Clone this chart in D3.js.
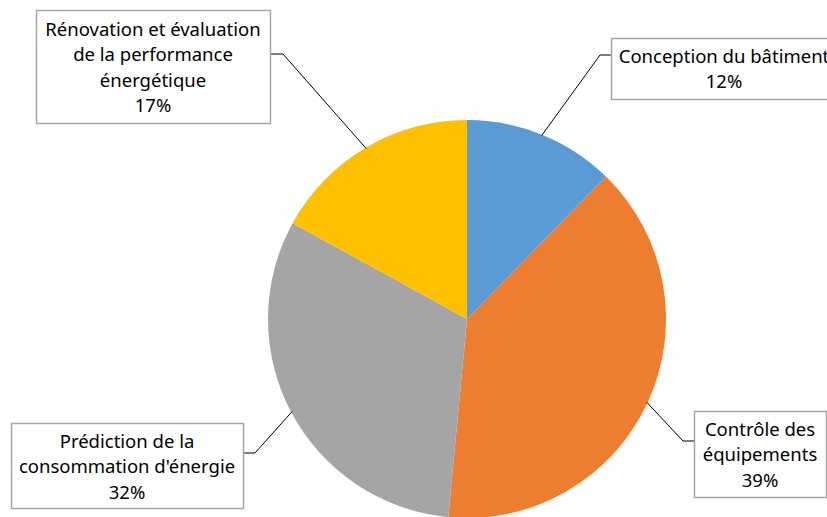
<!DOCTYPE html>
<html>
<head>
<meta charset="utf-8">
<script src="https://cdn.jsdelivr.net/npm/d3@7"></script>
<style>
  html, body { margin: 0; padding: 0; background: #fff; }
  svg { display: block; }
  text { font-family: "Noto Sans", Lato, sans-serif; fill: #000; font-variant-ligatures: none; }
</style>
</head>
<body>
<svg id="chart" width="827" height="517"></svg>
<script>
// ---- data ----
const categories = [
  "Conception du bâtiment",
  "Contrôle des équipements",
  "Prédiction de la consommation d'énergie",
  "Rénovation et évaluation de la performance énergétique"
];
const labelLines = [
  ["Conception du bâtiment"],
  ["Contrôle des", "équipements"],
  ["Prédiction de la", "consommation d'énergie"],
  ["Rénovation et évaluation", "de la performance", "énergétique"]
];
const values = [12.3, 39.2, 31.5, 17.0];
const colors = ["#5B9BD5", "#ED7D31", "#A5A5A5", "#FFC000"];

// ---- layout (label boxes) ----
const boxes = [
  { x: 611, y: 38, w: 226, h: 61, anchor: [611, 55], elbow: [600, 55], firstBase: 62.5 },
  { x: 694, y: 411, w: 132, h: 86, anchor: [694, 441], elbow: [683, 441], firstBase: 435.5 },
  { x: 11, y: 423, w: 232, h: 85, anchor: [243, 453], elbow: [255, 453], firstBase: 447.5 },
  { x: 36, y: 10, w: 234, h: 113, anchor: [270, 54], elbow: [283, 54], firstBase: 35.5 }
];
const lineH = 25.5;

const svg = d3.select("#chart");
const cx = 467, cy = 319, R = 199;

const total = d3.sum(values);
const pie = d3.pie().sort(null).value(d => d)(values);
const arc = d3.arc().innerRadius(0).outerRadius(R);

const g = svg.append("g").attr("transform", `translate(${cx},${cy})`);
g.selectAll("path.slice")
  .data(pie)
  .join("path")
  .attr("class", "slice")
  .attr("d", arc)
  .attr("fill", (d, i) => colors[i]);

// leader lines
pie.forEach((d, i) => {
  const mid = (d.startAngle + d.endAngle) / 2;
  const px = cx + (R - 1) * Math.sin(mid);
  const py = cy - (R - 1) * Math.cos(mid);
  const b = boxes[i];
  svg.append("path")
    .attr("d", d3.line()([b.anchor, b.elbow, [px, py]]))
    .attr("fill", "none")
    .attr("stroke", "#000")
    .attr("stroke-width", 1);
});

// label boxes
pie.forEach((d, i) => {
  const b = boxes[i];
  svg.append("rect")
    .attr("x", b.x + 0.5).attr("y", b.y + 0.5)
    .attr("width", b.w).attr("height", b.h)
    .attr("fill", "#fff")
    .attr("stroke", "#A6A6A6")
    .attr("stroke-width", 1.5);
  const lines = labelLines[i].concat([Math.round(values[i] / total * 100) + "%"]);
  const t = svg.append("text")
    .attr("text-anchor", "middle")
    .attr("font-size", 18.5);
  lines.forEach((ln, j) => {
    t.append("tspan")
      .attr("x", b.x + b.w / 2)
      .attr("y", b.firstBase + j * lineH)
      .text(ln);
  });
});
</script>
</body>
</html>
